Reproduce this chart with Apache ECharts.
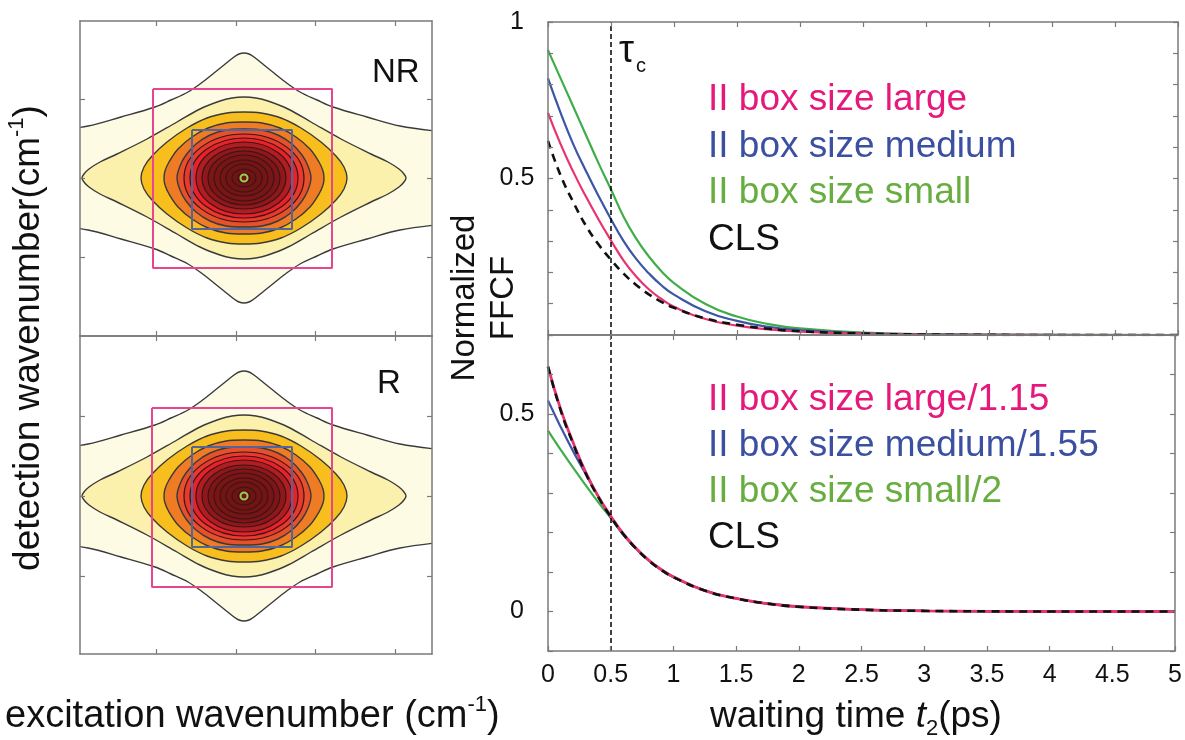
<!DOCTYPE html>
<html><head><meta charset="utf-8">
<script src="https://cdn.jsdelivr.net/npm/echarts@6/dist/echarts.min.js"></script>
<style>html,body{margin:0;padding:0;background:#fff}#c{width:1185px;height:740px}</style>
</head><body><div id="c"></div>
<script>
// ===== Right panels: FFCF vs waiting time t2 (ps) =====
const waitingTime = [0,0.1,0.2,0.3,0.4,0.5,0.6,0.7,0.8,0.9,1.0,1.25,1.5,1.75,2.0,2.5,3.0,3.5,4.0,4.5,5.0];
// top panel (raw)
const largeTop  = [0.71,0.61,0.522,0.443,0.37,0.302,0.238,0.187,0.146,0.115,0.090,0.051,0.030,0.018,0.011,0.004,0.0015,0.0005,0,0,0];
const mediumTop = [0.82,0.71,0.61,0.525,0.445,0.37,0.30,0.243,0.197,0.159,0.129,0.076,0.045,0.026,0.016,0.0055,0.002,0.0007,0.0002,0,0];
const smallTop  = [0.91,0.82,0.73,0.64,0.55,0.465,0.378,0.308,0.251,0.204,0.166,0.099,0.059,0.035,0.021,0.0075,0.0027,0.001,0.0003,0.0001,0];
const clsTop    = [0.62,0.51,0.425,0.35,0.29,0.24,0.196,0.16,0.13,0.106,0.087,0.053,0.033,0.02,0.012,0.0045,0.0015,0.0005,0,0,0];
// bottom panel (scaled)
const largeBottom  = [0.62,0.513,0.428,0.353,0.292,0.242,0.197,0.161,0.131,0.107,0.088,0.053,0.033,0.02,0.012,0.0045,0.0015,0.0005,0,0,0];
const mediumBottom = [0.534,0.468,0.406,0.348,0.292,0.238,0.195,0.16,0.13,0.106,0.087,0.053,0.033,0.02,0.012,0.0045,0.0015,0.0005,0,0,0];
const smallBottom  = [0.458,0.41,0.364,0.32,0.277,0.237,0.195,0.16,0.13,0.106,0.087,0.053,0.033,0.02,0.012,0.0045,0.0015,0.0005,0,0,0];
const clsBottom    = [0.62,0.51,0.425,0.35,0.29,0.24,0.196,0.16,0.13,0.106,0.087,0.053,0.033,0.02,0.012,0.0045,0.0015,0.0005,0,0,0];
const tauC = 0.5;
const legendTop = ['II box size large','II box size medium','II box size small','CLS'];
const legendBottom = ['II box size large/1.15','II box size medium/1.55','II box size small/2','CLS'];

// ===== Left panels: 2D spectra contours (offset from peak, arb. wavenumber units) =====
// quarter outlines, from top (dx=0) to right (dy=0)
const starQuarter = [[0,125],[5,124],[10,121],[20,113],[30,105],[40,97],[56,86],[73,78],[89,71],[123,61],[156,52],[200,46],[260,41],[330,0]];
const lensQuarter = [[0,81],[12,80],[24,77],[44,69],[67,56],[97,39],[127,24],[144,16],[155,9],[160,4],[162,0]];
const goldQuarter = [[0,66],[17,65],[37,60],[57,50],[77,36],[92,22],[100,11],[103,0]];
const orangeQuarter = [[0,56],[18,55],[36,50],[52,41],[66,29],[75,16],[79,7],[80,0]];
const redOrangeQuarter = [[0,49],[18,48],[34,43],[48,34],[58,23],[64,12],[67,0]];
const ringRadiusX = [60,54,48,42,36,30,24,18,12,6];
const ringRadiusY = [44,40,36,31,27,23,18,14,9,5];
const peakMarkRadius = [3.5];
const pinkBoxNR = [[-91,89],[88,89],[88,-90],[-91,-90],[-91,89]];
const blueBoxNR = [[-52,48],[48,48],[48,-51],[-52,-51],[-52,48]];
const pinkBoxR  = [[-92,88],[88,88],[88,-91],[-92,-91],[-92,88]];
const blueBoxR  = [[-52,49],[48,49],[48,-51],[-52,-51],[-52,49]];
const leftTicksX = [-88,-8,71,151];
const leftTicksYTop = [-79,0,79];
const leftTicksYBottom = [-80,0,80];

// styles
const polyFills = ['#fefbe4','#fcf0ad','#f8be1e','#ef7c24','#e5512b'];
const ringFills = ['#e63a2c','#e9212b','#b01d22','#8e181c','#7e1618','#781516','#741414','#711414','#701313','#701313'];
const lineCol = {large:'#e8336f', medium:'#3c55a6', small:'#3fae49', cls:'#111'};
const textCol = ['#e5197c','#3b50a1','#68ad3f','#111'];
const FONT = '"Liberation Sans", Arial, Helvetica, sans-serif';

function fullLoop(q){
  const pts=[]; const n=q.length;
  for(let k=0;k<n;k++) pts.push([q[k][0],q[k][1]]);
  for(let k=n-2;k>=0;k--) pts.push([q[k][0],-q[k][1]]);
  for(let k=1;k<n;k++) pts.push([-q[k][0],-q[k][1]]);
  for(let k=n-2;k>=1;k--) pts.push([-q[k][0],q[k][1]]);
  return pts;
}
const polyQuarters = [starQuarter,lensQuarter,goldQuarter,orangeQuarter,redOrangeQuarter];
const levelItems = [];
polyQuarters.forEach((q,i)=>levelItems.push([i,0]));
ringRadiusX.forEach((r,i)=>levelItems.push([polyQuarters.length+i,0]));
levelItems.push([polyQuarters.length+ringRadiusX.length,0]);

function renderContour(params, api){
  const idx = api.value(0);
  const np = polyQuarters.length;
  if(idx < np){
    const pts = fullLoop(polyQuarters[idx]).map(p=>api.coord(p));
    return {type:'polygon', shape:{points:pts, smooth:0.35},
      style:{fill:polyFills[idx], stroke:'#3a3a3a', lineWidth:1.4}};
  }
  const c = api.coord([0,0]);
  if(idx < np + ringRadiusX.length){
    const j = idx-np;
    const rx = api.size([ringRadiusX[j],0])[0];
    const ry = api.size([0,ringRadiusY[j]])[1];
    return {type:'ellipse', shape:{cx:c[0],cy:c[1],rx:rx,ry:ry},
      style:{fill:ringFills[j], stroke:'#3d1414', lineWidth:1.2}};
  }
  const r = api.size([peakMarkRadius[0],0])[0];
  return {type:'circle', shape:{cx:c[0],cy:c[1],r:r}, style:{fill:'#701313', stroke:'#9ccc4a', lineWidth:2}};
}

const frameCol = '#7a7a7a';
function axis(gridIndex, position, min, max, o){
  o = o||{};
  return {
    type:'value', gridIndex, position, min, max, z:6,
    interval: o.interval,
    splitLine:{show:false},
    axisLine:{show:true, onZero:false, lineStyle:{color:frameCol, width:1.5}},
    axisTick:Object.assign({show:true, inside:true, length:5, lineStyle:{color:frameCol, width:1.2}}, o.tickCustom?{customValues:o.tickCustom}:{}),
    axisLabel: o.label ? o.label : {show:false}
  };
}
const xLabel = {show:true, fontSize:25, fontFamily:FONT, color:'#111', margin:12};
const yFmt = (keep)=>({show:true, fontSize:25, fontFamily:FONT, color:'#111', margin:31, align:'center',
  formatter:(v)=>{for(const k of keep){ if(Math.abs(v-k)<1e-6) return String(k);} return '';}});

const xAxes = [
  axis(0,'bottom',-164,188,{tickCustom:leftTicksX}),
  axis(0,'top',-164,188,{tickCustom:leftTicksX}),
  axis(1,'bottom',-164,188,{tickCustom:leftTicksX}),
  axis(1,'top',-164,188,{tickCustom:leftTicksX}),
  axis(2,'bottom',0,5,{interval:0.5}),
  axis(2,'top',0,5,{interval:0.5}),
  axis(3,'bottom',0,5,{interval:0.5, label:xLabel}),
  axis(3,'top',0,5,{interval:0.5})
];
const yAxes = [
  axis(0,'left',-158,157,{tickCustom:leftTicksYTop}),
  axis(0,'right',-158,157,{tickCustom:leftTicksYTop}),
  axis(1,'left',-158,160,{tickCustom:leftTicksYBottom}),
  axis(1,'right',-158,160,{tickCustom:leftTicksYBottom}),
  axis(2,'left',0,1,{interval:0.1, label:yFmt([0.5,1])}),
  axis(2,'right',0,1,{interval:0.1}),
  axis(3,'left',-0.1,0.7,{interval:0.1, label:yFmt([0,0.5])}),
  axis(3,'right',-0.1,0.7,{interval:0.1})
];

function pairs(arr){ return waitingTime.map((t,i)=>[t,arr[i]]); }
function curve(ax, arr, color, dashed, w){
  return {type:'line', xAxisIndex:ax, yAxisIndex:ax, data:pairs(arr), symbol:'none', smooth:true, z:3,
    lineStyle:{color:color, width:w || (dashed?2.6:2.2), type:dashed?[8,6]:'solid'}};
}
function tauLine(){
  return {symbol:['none','none'], silent:true, label:{show:false}, data:[{xAxis:tauC}],
    lineStyle:{color:'#000', width:1.5, type:[5,3]}};
}
function contourSeries(ax){
  return {type:'custom', xAxisIndex:ax, yAxisIndex:ax, data:levelItems, renderItem:renderContour, clip:true, z:2, silent:true};
}
function boxSeries(ax, pts, color){
  return {type:'line', xAxisIndex:ax, yAxisIndex:ax, data:pts, symbol:'none', z:4, silent:true,
    lineStyle:{color:color, width:2}};
}

const series = [
  contourSeries(0), boxSeries(0,pinkBoxNR,'#e6468e'), boxSeries(0,blueBoxNR,'#56649c'),
  contourSeries(2), boxSeries(2,pinkBoxR,'#e6468e'), boxSeries(2,blueBoxR,'#56649c'),
  curve(4, smallTop, lineCol.small), curve(4, mediumTop, lineCol.medium), curve(4, largeTop, lineCol.large),
  Object.assign(curve(4, clsTop, lineCol.cls, true), {markLine:tauLine()}),
  curve(6, smallBottom, lineCol.small), curve(6, mediumBottom, lineCol.medium), curve(6, largeBottom, lineCol.large, false, 2.8),
  Object.assign(curve(6, clsBottom, lineCol.cls, true), {markLine:tauLine()})
];

const graphic = [];
function txt(x,y,text,size,fill,extra){
  graphic.push(Object.assign({type:'text', x, y, z:100, style:Object.assign({text, fontSize:size, fontFamily:FONT, fill:fill||'#111', align:'left', verticalAlign:'middle'}, (extra&&extra.style)||{})}, extra&&extra.rotation!==undefined?{rotation:extra.rotation}:{}));
}
const legTopY = [100,147,193,240];
const legBotY = [400,446,492,538];
legendTop.forEach((s,i)=>txt(708, legTopY[i], s, 37, textCol[i]));
legendBottom.forEach((s,i)=>txt(708, legBotY[i], s, 37, textCol[i]));
txt(372, 73, 'NR', 33);
txt(377, 384, 'R', 33);
txt(619, 52, '{t|τ}{c|c}', 38, '#111', {style:{rich:{t:{fontSize:38, fontFamily:FONT, lineHeight:48, fill:'#111'}, c:{fontSize:20, fontFamily:FONT, lineHeight:20, verticalAlign:'bottom', fill:'#111', padding:[0,0,0,2]}}}});
txt(710, 717, '{a|waiting time }{i|t}{s|2}{a|(ps)}', 37, '#111', {style:{rich:{a:{fontSize:37, fontFamily:FONT, lineHeight:46, fill:'#111'}, i:{fontSize:37, fontFamily:FONT, fontStyle:'italic', lineHeight:46, fill:'#111'}, s:{fontSize:22, fontFamily:FONT, lineHeight:22, verticalAlign:'bottom', fill:'#111'}}}});
txt(5, 717, '{a|excitation wavenumber (cm}{s|-1}{a|)}', 38, '#111', {style:{rich:{a:{fontSize:38, fontFamily:FONT, lineHeight:46, fill:'#111'}, s:{fontSize:22, fontFamily:FONT, lineHeight:22, verticalAlign:'top', fill:'#111'}}}});
txt(29, 338, '{a|detection wavenumber(cm}{s|-1}{a|)}', 37, '#111', {rotation:Math.PI/2, style:{align:'center', rich:{a:{fontSize:37, fontFamily:FONT, lineHeight:46, fill:'#111'}, s:{fontSize:22, fontFamily:FONT, lineHeight:22, verticalAlign:'top', fill:'#111'}}}});
txt(484, 298, 'Normalized\nFFCF', 33, '#111', {rotation:Math.PI/2, style:{align:'center', lineHeight:39}});

const chart = echarts.init(document.getElementById('c'), null, {renderer:'canvas'});
chart.setOption({
  animation:false,
  backgroundColor:'#fff',
  grid:[
    {left:80, top:21, width:352, height:315},
    {left:80, top:336, width:352, height:318},
    {left:548, top:22, width:630, height:313},
    {left:548, top:335, width:630, height:316}
  ],
  xAxis:xAxes, yAxis:yAxes, series:series, graphic:graphic
});
</script></body></html>
